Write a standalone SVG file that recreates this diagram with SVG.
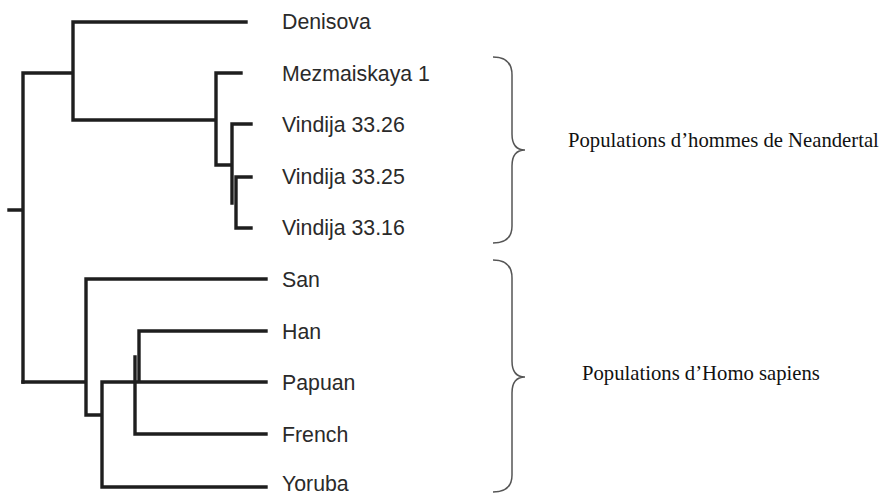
<svg xmlns="http://www.w3.org/2000/svg" width="883" height="495" viewBox="0 0 883 495">
<style>
.br{fill:none;stroke:#1e1e1e;stroke-width:3.4;stroke-linecap:square;stroke-linejoin:miter}
.brace{fill:none;stroke:#555;stroke-width:1.5}
.leaf{font-family:"Liberation Sans",Arial,sans-serif;font-size:21.3px;fill:#2a2a2a}
.grp{font-family:"Liberation Serif","Times New Roman",serif;font-size:20.7px;fill:#111}
</style>
<rect width="883" height="495" fill="#fff"/>
<g id="connectors">
<path class="br" d="M9,210 H23 M23,73 V382 M23,73 H73 M73,22 V120 M73,22 H246 M73,120 H216 M216,73 V165 M216,73 H241 M216,165 H232 M232,124 V203 M232,124 H251 M236,177 V228 M236,177 H251 M236,228 H251"/>
<path class="br" d="M23,382 H86 M86,279 V415 M86,279 H266 M86,415 H102 M102,382 V487 M102,487 H266 M102,382 H266 M135,357 V434 M135,434 H266 M139,331 V382 M139,331 H266"/>
</g>
<g id="denisova"><text class="leaf" x="282" y="29">Denisova</text></g>
<g id="mezmaiskaya1"><text class="leaf" x="282" y="81">Mezmaiskaya 1</text></g>
<g id="vindija3326"><text class="leaf" x="282" y="132">Vindija 33.26</text></g>
<g id="vindija3325"><text class="leaf" x="282" y="184">Vindija 33.25</text></g>
<g id="vindija3316"><text class="leaf" x="282" y="235">Vindija 33.16</text></g>
<g id="san"><text class="leaf" x="282" y="287">San</text></g>
<g id="han"><text class="leaf" x="282" y="339">Han</text></g>
<g id="papuan"><text class="leaf" x="282" y="390">Papuan</text></g>
<g id="french"><text class="leaf" x="282" y="442">French</text></g>
<g id="yoruba"><text class="leaf" x="282" y="491">Yoruba</text></g>
<g id="neandertal-group">
<path class="brace" d="M493,57 C505,57 512,62 512,75 L512,134 C512,145 517,150 525,150 C517,150 512,155 512,166 L512,226 C512,238 505,243 493,243"/>
<text class="grp" x="568" y="147">Populations d’hommes de Neandertal</text>
</g>
<g id="sapiens-group">
<path class="brace" d="M493,260 C505,260 512,265 512,278 L512,361 C512,372 517,377 525,377 C517,377 512,382 512,393 L512,475 C512,487 505,492 493,492"/>
<text class="grp" x="582" y="380">Populations d’Homo sapiens</text>
</g>
</svg>
